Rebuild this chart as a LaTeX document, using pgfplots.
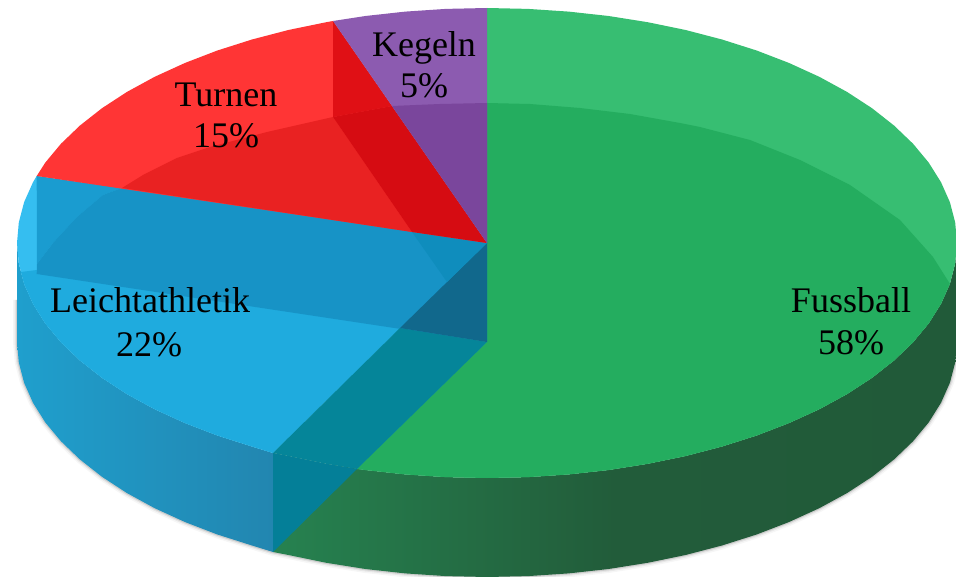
\documentclass[border=0pt]{standalone}
\usepackage{pgfplots}
\pgfplotsset{compat=1.18}
\usepackage{fontspec}
\setmainfont{Liberation Serif}
\definecolor{gWallA}{HTML}{268250}
\definecolor{gWallB}{HTML}{225C3A}
\definecolor{gWallC}{HTML}{215A39}
\definecolor{gLight}{HTML}{37BE72}
\definecolor{gDark}{HTML}{24AD5F}
\definecolor{bWallA}{HTML}{1F9FCD}
\definecolor{bWallB}{HTML}{2286B0}
\definecolor{bLight}{HTML}{35BEF0}
\definecolor{bMid}{HTML}{1FABDE}
\definecolor{bDark}{HTML}{1793C6}
\definecolor{bDarkL}{HTML}{1A9CD0}
\definecolor{teal1}{HTML}{058599}
\definecolor{teal2}{HTML}{047F98}
\definecolor{bDeep}{HTML}{11688C}
\definecolor{bWedge}{HTML}{0F8DBD}
\definecolor{rLight}{HTML}{FF3535}
\definecolor{rMid}{HTML}{E92222}
\definecolor{rDark}{HTML}{D60C12}
\definecolor{rDarkL}{HTML}{E01015}
\definecolor{pLight}{HTML}{8C5BB0}
\definecolor{pDark}{HTML}{7A469C}
\begin{document}
\begin{tikzpicture}
\useasboundingbox (0,0) rectangle (956pt,577pt);
\begin{axis}[
  at={(0,0)}, anchor=south west,
  scale only axis, width=956pt, height=577pt,
  xmin=0, xmax=956, ymin=0, ymax=577, y dir=reverse,
  hide axis, clip=true, no markers,
]
% soft shadow under the lower rim
\addplot[draw=gray, line width=8pt, opacity=0.07] coordinates {
(17,300)(17,342)(18.8,362.5)(24.1,382.8)(33,402.8)(45.3,422.4)(61,441.3)(80,459.5)(102,476.8)(127,493.1)(154.7,508.2)(184.9,522)(217.4,534.5)(252,545.5)(273,552)(288.4,555)(326.3,562.8)(365.4,569)(405.4,573.4)(446,576.1)(487,577)(528,576.1)(568.6,573.4)(608.6,569)(647.7,562.8)(685.6,555)(722,545.5)(756.6,534.5)(789.1,522)(819.3,508.2)(847,493.1)(872,476.8)(894,459.5)(913,441.3)(928.7,422.4)(941,402.8)(949.9,382.8)(955.2,362.5)(957,342)};
\addplot[draw=gray, line width=5pt, opacity=0.13] coordinates {
(17,300)(17,342)(18.8,362.5)(24.1,382.8)(33,402.8)(45.3,422.4)(61,441.3)(80,459.5)(102,476.8)(127,493.1)(154.7,508.2)(184.9,522)(217.4,534.5)(252,545.5)(273,552)(288.4,555)(326.3,562.8)(365.4,569)(405.4,573.4)(446,576.1)(487,577)(528,576.1)(568.6,573.4)(608.6,569)(647.7,562.8)(685.6,555)(722,545.5)(756.6,534.5)(789.1,522)(819.3,508.2)(847,493.1)(872,476.8)(894,459.5)(913,441.3)(928.7,422.4)(941,402.8)(949.9,382.8)(955.2,362.5)(957,342)};
\addplot[draw=gray, line width=2.5pt, opacity=0.25] coordinates {
(17,300)(17,342)(18.8,362.5)(24.1,382.8)(33,402.8)(45.3,422.4)(61,441.3)(80,459.5)(102,476.8)(127,493.1)(154.7,508.2)(184.9,522)(217.4,534.5)(252,545.5)(273,552)(288.4,555)(326.3,562.8)(365.4,569)(405.4,573.4)(446,576.1)(487,577)(528,576.1)(568.6,573.4)(608.6,569)(647.7,562.8)(685.6,555)(722,545.5)(756.6,534.5)(789.1,522)(819.3,508.2)(847,493.1)(872,476.8)(894,459.5)(913,441.3)(928.7,422.4)(941,402.8)(949.9,382.8)(955.2,362.5)(957,342)};
% green side wall
\addplot[draw=none, left color=gWallA, right color=gWallC, middle color=gWallB] coordinates {
(957,243)(955.2,263.5)(949.9,283.8)(941,303.8)(928.7,323.4)(913,342.3)(894,360.5)(872,377.8)(847,394.1)(819.3,409.2)(789.1,423)(756.6,435.5)(722,446.5)(685.6,456)(647.7,463.8)(608.6,470)(568.6,474.4)(528,477.1)(487,478)(446,477.1)(405.4,474.4)(365.4,470)(326.3,463.8)(288.4,456)(273,453)
(273,552)(288.4,555)(326.3,562.8)(365.4,569)(405.4,573.4)(446,576.1)(487,577)(528,576.1)(568.6,573.4)(608.6,569)(647.7,562.8)(685.6,555)(722,545.5)(756.6,534.5)(789.1,522)(819.3,508.2)(847,493.1)(872,476.8)(894,459.5)(913,441.3)(928.7,422.4)(941,402.8)(949.9,382.8)(955.2,362.5)(957,342)} --cycle;
% blue side wall
\addplot[draw=none, left color=bWallA, right color=bWallB] coordinates {
(273,453)(252,446.5)(217.4,435.5)(184.9,423)(154.7,409.2)(127,394.1)(102,377.8)(80,360.5)(61,342.3)(45.3,323.4)(33,303.8)(24.1,283.8)(18.8,263.5)(17,243)
(17,342)(18.8,362.5)(24.1,382.8)(33,402.8)(45.3,422.4)(61,441.3)(80,459.5)(102,476.8)(127,493.1)(154.7,508.2)(184.9,522)(217.4,534.5)(252,545.5)(273,552)} --cycle;
% green top face, light rim
\addplot[draw=none, fill=gLight] coordinates {
(487,243)(487,8)(528,8.9)(568.6,11.6)(608.6,16)(647.7,22.2)(685.6,30)(722,39.5)(756.6,50.5)(789.1,63)(819.3,76.8)(847,91.9)(872,108.2)(894,125.5)(913,143.7)(928.7,162.6)(941,182.2)(949.9,202.2)(955.2,222.5)(957,243)(955.2,263.5)(949.9,283.8)(941,303.8)(928.7,323.4)(913,342.3)(894,360.5)(872,377.8)(847,394.1)(819.3,409.2)(789.1,423)(756.6,435.5)(722,446.5)(685.6,456)(647.7,463.8)(608.6,470)(568.6,474.4)(528,477.1)(487,478)(446,477.1)(405.4,474.4)(365.4,470)(357,469)} --cycle;
% green top face, seen through to the back rim
\addplot[draw=none, fill=gDark] coordinates {
(487,103)(530,104)(580,108)(630,114)(680,123)(700,127)(750,140)(800,160)(850,185)(900,220)(933,257)(949.9,283.8)(941,303.8)(928.7,323.4)(913,342.3)(894,360.5)(872,377.8)(847,394.1)(819.3,409.2)(789.1,423)(756.6,435.5)(722,446.5)(685.6,456)(647.7,463.8)(608.6,470)(568.6,474.4)(528,477.1)(487,478)(446,477.1)(405.4,474.4)(365.4,470)(357,469)(487,342)} --cycle;
% teal: inner wall under the rim
\addplot[draw=none, fill=teal2] coordinates {
(273,453)(288.4,456)(326.3,463.8)(357,469)(273,552)} --cycle;
% blue top face
\addplot[draw=none, fill=bLight] coordinates {
(487,243)(273,453)(252,446.5)(217.4,435.5)(184.9,423)(154.7,409.2)(127,394.1)(102,377.8)(80,360.5)(61,342.3)(45.3,323.4)(33,303.8)(24.1,283.8)(18.8,263.5)(17,243)(18.8,222.5)(24.1,202.2)(33,182.2)(36.7,176)} --cycle;
\addplot[draw=none, fill=bMid] coordinates {
(21,272)(37,270)(53,243)(77,217)(103,195)(122,188)(487,243)(273,453)(252,446.5)(217.4,435.5)(184.9,423)(154.7,409.2)(127,394.1)(102,377.8)(80,360.5)(61,342.3)(45.3,323.4)(33,303.8)(24.1,283.8)} --cycle;
\addplot[draw=none, fill=bDarkL] coordinates {
(36.7,176)(122,188)(103,195)(77,217)(53,243)(37,264)} --cycle;
\addplot[draw=none, fill=bDark] coordinates {
(37,264)(53,243)(77,217)(103,195)(122,188)(487,243)(487,342)(36.7,274)} --cycle;
% inner walls seen through the blue face
\addplot[draw=none, fill=teal1] coordinates {
(400,328)(487,342)(357,469)(326.3,463.8)(288.4,456)(273,453)} --cycle;
\addplot[draw=none, fill=bDeep] coordinates {
(487,243)(487,342)(400,328)} --cycle;
\addplot[draw=none, fill=bWedge] coordinates {
(412,232)(487,243)(447,282)} --cycle;
% red top face
\addplot[draw=none, fill=rLight] coordinates {
(487,243)(36.7,176)(45.3,162.6)(61,143.7)(80,125.5)(102,108.2)(127,91.9)(154.7,76.8)(184.9,63)(217.4,50.5)(252,39.5)(288.4,30)(326.3,22.2)(333,21)} --cycle;
\addplot[draw=none, fill=rMid] coordinates {
(122,188)(143,175)(177,158)(210,147)(267,132)(333,117)(412,232)} --cycle;
\addplot[draw=none, fill=rDarkL] coordinates {
(333,21)(392,106)(333,117)} --cycle;
\addplot[draw=none, fill=rDark] coordinates {
(392,106)(487,243)(412,232)(333,117)} --cycle;
% purple top face
\addplot[draw=none, fill=pLight] coordinates {
(487,243)(333,21)(365.4,16)(405.4,11.6)(446,8.9)(487,8)} --cycle;
\addplot[draw=none, fill=pDark] coordinates {
(392,106)(440,104)(487,103)(487,243)} --cycle;
% labels
\node[anchor=base, font=\fontsize{36}{42}\selectfont] at (axis cs:424,57) {Kegeln};
\node[anchor=base, font=\fontsize{36}{42}\selectfont] at (axis cs:424,98) {5\%};
\node[anchor=base, font=\fontsize{36}{42}\selectfont] at (axis cs:226,107) {Turnen};
\node[anchor=base, font=\fontsize{36}{42}\selectfont] at (axis cs:226,148) {15\%};
\node[anchor=base, font=\fontsize{36}{42}\selectfont] at (axis cs:150,313) {Leichtathletik};
\node[anchor=base, font=\fontsize{36}{42}\selectfont] at (axis cs:149,356) {22\%};
\node[anchor=base, font=\fontsize{36}{42}\selectfont] at (axis cs:851,313) {Fussball};
\node[anchor=base, font=\fontsize{36}{42}\selectfont] at (axis cs:851,355) {58\%};
\end{axis}
\end{tikzpicture}
\end{document}
